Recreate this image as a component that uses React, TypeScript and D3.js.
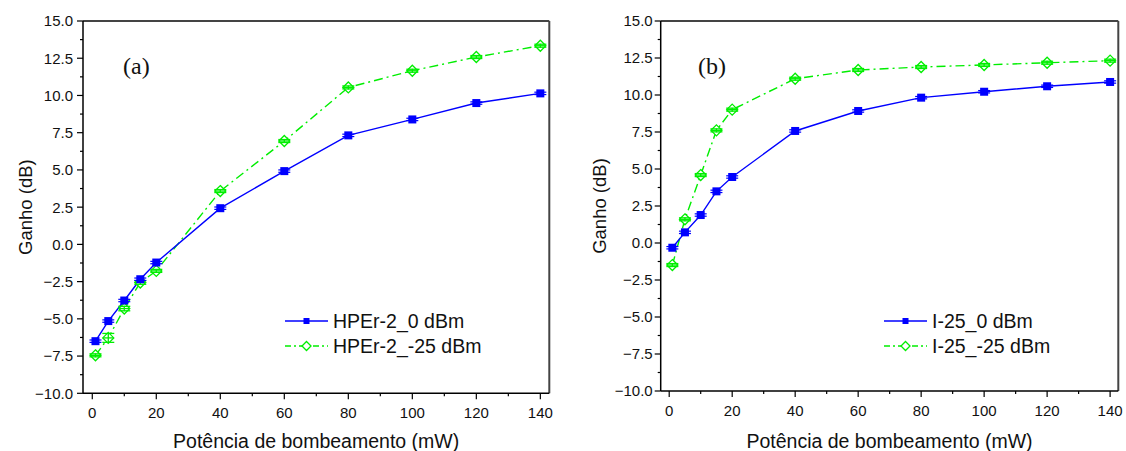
import React from 'react';
import * as d3 from 'd3';

const pump = [1, 5, 10, 15, 20, 40, 60, 80, 100, 120, 140];
const hper0 = [-6.5, -5.15, -3.77, -2.34, -1.22, 2.43, 4.92, 7.32, 8.39, 9.49, 10.14];
const hper25 = [-7.45, -6.28, -4.31, -2.56, -1.78, 3.58, 6.94, 10.54, 11.66, 12.58, 13.34];
const hper0Err = [0.08, 0.08, 0.08, 0.08, 0.08, 0.08, 0.08, 0.08, 0.08, 0.08, 0.08];
const hper25Err = [0.1, 0.3, 0.15, 0.12, 0.1, 0.1, 0.1, 0.1, 0.1, 0.1, 0.1];
const i25_0 = [-0.32, 0.72, 1.89, 3.49, 4.46, 7.57, 8.92, 9.82, 10.22, 10.59, 10.88];
const i25_25 = [-1.49, 1.6, 4.59, 7.61, 9.01, 11.1, 11.69, 11.89, 12.03, 12.18, 12.32];
const i25_0Err = [0.08, 0.08, 0.08, 0.08, 0.08, 0.08, 0.08, 0.08, 0.08, 0.08, 0.08];
const i25_25Err = [0.1, 0.1, 0.1, 0.1, 0.1, 0.1, 0.1, 0.1, 0.1, 0.1, 0.1];

const yTicks = [-10, -7.5, -5, -2.5, 0, 2.5, 5, 7.5, 10, 12.5, 15];
const yMinor = [-8.75, -6.25, -3.75, -1.25, 1.25, 3.75, 6.25, 8.75, 11.25, 13.75];
const xTicks = [0, 20, 40, 60, 80, 100, 120, 140];
const xMinor = [10, 30, 50, 70, 90, 110, 130];

const xTitle = 'Potência de bombeamento (mW)';
const yTitle = 'Ganho (dB)';
const namesA = ['HPEr-2_0 dBm', 'HPEr-2_-25 dBm'];
const namesB = ['I-25_0 dBm', 'I-25_-25 dBm'];

const BLUE = '#0000ff';
const GREEN = '#00ee00';
const SANS = '"Liberation Sans", Arial, Helvetica, sans-serif';
const SERIF = '"Liberation Serif", "Times New Roman", serif';

type PanelProps = {
  x0: number; x1: number; y0: number; y1: number;
  xDom: [number, number];
  tag: string; tagX: number;
  s0: number[]; s25: number[]; e0: number[]; e25: number[];
  names: string[]; legX: number; legY: number;
  yTitleX: number; labelGap: number;
};

function Panel(p: PanelProps) {
  const x = d3.scaleLinear().domain(p.xDom).range([p.x0, p.x1]);
  const y = d3.scaleLinear().domain([-10, 15]).range([p.y1, p.y0]);
  const line = d3.line<number>().x((_, i) => x(pump[i])).y((d) => y(d));
  const cx = (p.x0 + p.x1) / 2;
  const cy = (p.y0 + p.y1) / 2;
  const fmt = d3.format('.1f');
  const dash = '9,4,2,4';
  return (
    <g>
      {/* frame */}
      <line x1={p.x0} x2={p.x1} y1={p.y0} y2={p.y0} stroke="#444" strokeWidth={2} />
      <line x1={p.x1} x2={p.x1} y1={p.y0} y2={p.y1} stroke="#444" strokeWidth={2} />
      <line x1={p.x0} x2={p.x0} y1={p.y0} y2={p.y1} stroke="#000" strokeWidth={1.5} />
      <line x1={p.x0} x2={p.x1} y1={p.y1} y2={p.y1} stroke="#000" strokeWidth={1.5} />
      {/* y ticks */}
      {yTicks.map((t) => (
        <g key={'y' + t}>
          <line x1={p.x0 - 6} x2={p.x0} y1={y(t)} y2={y(t)} stroke="#000" strokeWidth={1.2} />
          <text x={p.x0 - p.labelGap} y={y(t)} dy="0.36em" textAnchor="end" fontFamily={SANS} fontSize={15} fill="#111">
            {fmt(t)}
          </text>
        </g>
      ))}
      {yMinor.map((t) => (
        <line key={'ym' + t} x1={p.x0 - 3} x2={p.x0} y1={y(t)} y2={y(t)} stroke="#000" strokeWidth={1.2} />
      ))}
      {xTicks.map((t) => (
        <g key={'x' + t}>
          <line x1={x(t)} x2={x(t)} y1={p.y1} y2={p.y1 + 6} stroke="#000" strokeWidth={1.2} />
          <text x={x(t)} y={p.y1 + 25} textAnchor="middle" fontFamily={SANS} fontSize={15} fill="#111">
            {t}
          </text>
        </g>
      ))}
      {xMinor.map((t) => (
        <line key={'xm' + t} x1={x(t)} x2={x(t)} y1={p.y1} y2={p.y1 + 3} stroke="#000" strokeWidth={1.2} />
      ))}
      {/* titles */}
      <text x={cx} y={448} textAnchor="middle" fontFamily={SANS} fontSize={19.5} fill="#111">{xTitle}</text>
      <text transform={`translate(${p.yTitleX},${cy}) rotate(-90)`} textAnchor="middle" fontFamily={SANS} fontSize={18.5} fill="#111">{yTitle}</text>
      <text x={p.tagX} y={74} fontFamily={SERIF} fontSize={24} fill="#111">{p.tag}</text>
      {/* series lines */}
      <path d={line(p.s25) || ''} fill="none" stroke={GREEN} strokeWidth={1.4} strokeDasharray={dash} />
      <path d={line(p.s0) || ''} fill="none" stroke={BLUE} strokeWidth={1.4} />
      {/* green markers */}
      {p.s25.map((v, i) => {
        const px = x(pump[i]);
        const py = y(v);
        const ya = y(v + p.e25[i]);
        const yb = y(v - p.e25[i]);
        return (
          <g key={'g' + i} stroke={GREEN} strokeWidth={1.3} fill="none">
            <path d={`M${px},${py - 5.5}L${px + 5.5},${py}L${px},${py + 5.5}L${px - 5.5},${py}Z`} fill="#fff" />
            <line x1={px} x2={px} y1={ya - 0.5} y2={yb + 0.5} />
            <line x1={px - 6} x2={px + 6} y1={ya} y2={ya} />
            <line x1={px - 6} x2={px + 6} y1={yb} y2={yb} />
            <line x1={px - 5.5} x2={px + 5.5} y1={py} y2={py} />
          </g>
        );
      })}
      {/* blue markers */}
      {p.s0.map((v, i) => {
        const px = x(pump[i]);
        const py = y(v);
        const ya = y(v + p.e0[i]);
        const yb = y(v - p.e0[i]);
        return (
          <g key={'b' + i}>
            <line x1={px - 6} x2={px + 6} y1={ya} y2={ya} stroke={BLUE} strokeWidth={1.2} />
            <line x1={px - 6} x2={px + 6} y1={yb} y2={yb} stroke={BLUE} strokeWidth={1.2} />
            <rect x={px - 4} y={py - 4} width={8} height={8} fill={BLUE} />
          </g>
        );
      })}
      {/* legend */}
      <g>
        <line x1={p.legX} x2={p.legX + 43} y1={p.legY} y2={p.legY} stroke={BLUE} strokeWidth={1.4} />
        <rect x={p.legX + 21.5 - 3} y={p.legY - 3} width={6} height={6} fill={BLUE} />
        <text x={p.legX + 48} y={p.legY} dy="0.36em" fontFamily={SANS} fontSize={19.5} fill="#111">{p.names[0]}</text>
        <line x1={p.legX} x2={p.legX + 43} y1={p.legY + 25} y2={p.legY + 25} stroke={GREEN} strokeWidth={1.4} strokeDasharray="6,3,2,3" />
        <path
          d={`M${p.legX + 21.5},${p.legY + 25 - 4.5}L${p.legX + 26},${p.legY + 25}L${p.legX + 21.5},${p.legY + 25 + 4.5}L${p.legX + 17},${p.legY + 25}Z`}
          fill="#fff" stroke={GREEN} strokeWidth={1.3}
        />
        <text x={p.legX + 48} y={p.legY + 25} dy="0.36em" fontFamily={SANS} fontSize={19.5} fill="#111">{p.names[1]}</text>
      </g>
    </g>
  );
}

export default function App() {
  return (
    <svg width={1126} height={451} style={{ position: 'absolute', left: 0, top: 0, background: '#fff' }}>
      <rect x={0} y={0} width={1126} height={451} fill="#fff" />
      <Panel
        x0={83} x1={549.3} y0={21} y1={393.3} xDom={[-2.9, 142.8]}
        tag="(a)" tagX={123}
        s0={hper0} s25={hper25} e0={hper0Err} e25={hper25Err}
        names={namesA} legX={285} legY={321} yTitleX={32} labelGap={10}
      />
      <Panel
        x0={660.7} x1={1118.3} y0={21} y1={391} xDom={[-2.7, 142.6]}
        tag="(b)" tagX={698}
        s0={i25_0} s25={i25_25} e0={i25_0Err} e25={i25_25Err}
        names={namesB} legX={884} legY={321} yTitleX={606} labelGap={8}
      />
    </svg>
  );
}
